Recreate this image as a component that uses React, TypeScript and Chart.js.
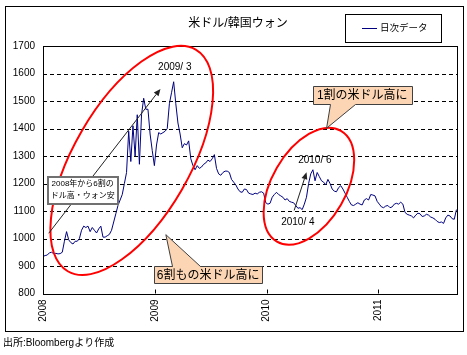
import React, { useEffect, useRef } from 'react';
import { Chart, registerables } from 'chart.js';
Chart.register(...registerables);

// ---- data (weekly closes, USD/KRW) ----
const startYear = 2008;
const values2008 = [
  935, 938, 940, 948, 950, 945, 946, 944, 945, 950,
  990, 1025, 995, 985, 980, 990, 990, 1000, 1030, 1045,
  1040, 1045, 1025, 1040, 1030, 1020, 1035, 1045, 1005, 1005,
  1010, 1015, 1030, 1060, 1090, 1120, 1140, 1160, 1200, 1240,
  1390, 1280, 1410, 1300, 1450, 1270, 1450, 1510, 1470, 1470,
  1380, 1320,
];
const values2009 = [
  1265, 1340, 1385, 1380, 1385, 1390, 1400, 1490, 1530, 1570,
  1490, 1420, 1380, 1330, 1345, 1340, 1355, 1290, 1265, 1250,
  1265, 1255, 1260, 1270, 1275, 1285, 1280, 1290, 1305, 1255,
  1235, 1230, 1240, 1245, 1245, 1240, 1215, 1205, 1195, 1180,
  1170, 1168, 1180, 1178, 1165, 1162, 1160, 1165, 1162, 1168,
  1170, 1165,
];
const values2010 = [
  1130, 1125, 1128, 1150, 1160, 1168, 1160, 1155, 1150, 1140,
  1145, 1135, 1132, 1130, 1120, 1110, 1112, 1105, 1125, 1150,
  1200, 1235, 1250, 1210, 1240, 1225, 1210, 1205, 1195, 1215,
  1200, 1180, 1172, 1170, 1185, 1192, 1180, 1165, 1150, 1135,
  1122, 1120, 1125, 1130, 1125, 1122, 1140, 1145, 1140, 1160,
  1158, 1155,
];
const values2011 = [
  1135, 1125, 1115, 1112, 1118, 1120, 1112, 1115, 1125, 1128,
  1125, 1132, 1125, 1095, 1088, 1085, 1082, 1075, 1085, 1092,
  1090, 1080, 1082, 1088, 1085, 1078, 1075, 1070, 1062, 1058,
  1060, 1055, 1075, 1085, 1082, 1072, 1070, 1105,
];
const xTickYears = [2008, 2009, 2010, 2011];
const yTickValues = [800, 900, 1000, 1100, 1200, 1300, 1400, 1500, 1600, 1700];
const gridValues = [900, 1000, 1100, 1200, 1300, 1400, 1500, 1600];
const xMax = 2011.704;

const titleText = '米ドル/韓国ウォン';
const legendText = '日次データ';
const sourceText = '出所:Bloombergより作成';

const weekly = [...values2008, ...values2009, ...values2010, ...values2011];
const points = weekly.map((v, i) => ({ x: startYear + (i * 7) / 365.25, y: v }));

// ---- annotations (anchors in data units) ----
const ellipses = [
  { x: 2008.794, y: 1284, rx: 128, ry: 58, rot: -60 },
  { x: 2010.379, y: 1190, rx: 64, ry: 37, rot: -60 },
];
const arrows = [
  { x1: 2008.051, y1: 1019, x2: 2009.051, y2: 1544 },
  { x1: 2010.247, y1: 1102, x2: 2010.358, y2: 1241 },
];
const dateLabels = [
  { x: 2009.179, y: 1621, text: '2009/ 3' },
  { x: 2010.432, y: 1284, text: '2010/ 6' },
  { x: 2010.28, y: 1059, text: '2010/ 4' },
];
const callouts = [
  { x: 2010.856, y: 1522, w: 99, h: 18, text: '1割の米ドル高に', ax: 2010.537, ay: 1401, side: 'bottom', b1: 17, b2: 42 },
  { x: 2009.478, y: 870, w: 108, h: 17, text: '6割もの米ドル高に', ax: 2009.099, ay: 1014, side: 'top', b1: 18, b2: 46 },
];
const noteBox = { x: 2008.355, y: 1174, w: 70, h: 27, lines: ['2008年から6割の', 'ドル高・ウォン安'] };

const CJK = '"Liberation Sans", "Noto Sans CJK JP", sans-serif';

const decor = {
  id: 'decor',
  beforeDraw(chart: any) {
    const { ctx, width, height } = chart;
    ctx.save();
    ctx.fillStyle = '#fff';
    ctx.fillRect(0, 0, width, height);
    ctx.restore();
  },
  beforeDatasetsDraw(chart: any) {
    const { ctx, chartArea: ca, scales } = chart;
    const y = scales.y;
    ctx.save();
    ctx.strokeStyle = '#000';
    ctx.lineWidth = 1;
    ctx.setLineDash([4, 3]);
    for (const v of gridValues) {
      const py = Math.round(y.getPixelForValue(v)) + 0.5;
      ctx.beginPath();
      ctx.moveTo(ca.left, py);
      ctx.lineTo(ca.right, py);
      ctx.stroke();
    }
    ctx.restore();
  },
  afterDatasetsDraw(chart: any) {
    const { ctx, chartArea: ca, scales } = chart;
    const xs = scales.x, ys = scales.y;
    const px = (v: number) => xs.getPixelForValue(v);
    const py = (v: number) => ys.getPixelForValue(v);
    ctx.save();
    // plot border
    ctx.strokeStyle = '#000';
    ctx.lineWidth = 1;
    ctx.setLineDash([]);
    ctx.strokeRect(Math.round(ca.left) + 0.5, Math.round(ca.top) + 0.5, Math.round(ca.right - ca.left), Math.round(ca.bottom - ca.top));
    // x tick marks (inward)
    for (const t of xTickYears) {
      const x = Math.round(px(t)) + 0.5;
      ctx.beginPath();
      ctx.moveTo(x, ca.bottom);
      ctx.lineTo(x, ca.bottom - 4);
      ctx.stroke();
    }
    // ellipses
    ctx.strokeStyle = '#ff0000';
    ctx.lineWidth = 2;
    for (const e of ellipses) {
      ctx.beginPath();
      ctx.ellipse(px(e.x), py(e.y), e.rx, e.ry, (e.rot * Math.PI) / 180, 0, Math.PI * 2);
      ctx.stroke();
    }
    // arrows
    ctx.strokeStyle = '#222';
    ctx.fillStyle = '#222';
    ctx.lineWidth = 1;
    for (const a of arrows) {
      const x1 = px(a.x1), y1 = py(a.y1), x2 = px(a.x2), y2 = py(a.y2);
      const ang = Math.atan2(y2 - y1, x2 - x1);
      const hl = 7, hw = 3;
      const bx = x2 - hl * Math.cos(ang), by = y2 - hl * Math.sin(ang);
      ctx.beginPath();
      ctx.moveTo(x1, y1);
      ctx.lineTo(bx, by);
      ctx.stroke();
      ctx.beginPath();
      ctx.moveTo(x2, y2);
      ctx.lineTo(bx + hw * Math.sin(ang), by - hw * Math.cos(ang));
      ctx.lineTo(bx - hw * Math.sin(ang), by + hw * Math.cos(ang));
      ctx.closePath();
      ctx.fill();
    }
    // note box
    {
      const cx = px(noteBox.x), cy = py(noteBox.y);
      const L = Math.round(cx - noteBox.w / 2), T = Math.round(cy - noteBox.h / 2);
      ctx.fillStyle = '#fff';
      ctx.fillRect(L, T, noteBox.w, noteBox.h);
      ctx.strokeStyle = '#707070';
      ctx.lineWidth = 2;
      ctx.strokeRect(L, T, noteBox.w, noteBox.h);
      ctx.fillStyle = '#000';
      ctx.font = `8px ${CJK}`;
      ctx.textAlign = 'center';
      ctx.textBaseline = 'middle';
      ctx.fillText(noteBox.lines[0], cx, T + 7);
      ctx.fillText(noteBox.lines[1], cx, T + 19);
    }
    // callouts
    for (const c of callouts) {
      const cx = px(c.x), cy = py(c.y);
      const L = Math.round(cx - c.w / 2) + 0.5, T = Math.round(cy - c.h / 2) + 0.5;
      const R = L + c.w, B = T + c.h;
      const ax = px(c.ax), ay = py(c.ay);
      ctx.beginPath();
      if (c.side === 'bottom') {
        ctx.moveTo(L, T); ctx.lineTo(R, T); ctx.lineTo(R, B);
        ctx.lineTo(L + c.b2, B); ctx.lineTo(ax, ay); ctx.lineTo(L + c.b1, B);
        ctx.lineTo(L, B);
      } else {
        ctx.moveTo(L, T); ctx.lineTo(L + c.b1, T); ctx.lineTo(ax, ay); ctx.lineTo(L + c.b2, T);
        ctx.lineTo(R, T); ctx.lineTo(R, B); ctx.lineTo(L, B);
      }
      ctx.closePath();
      ctx.fillStyle = '#fcd5b4';
      ctx.fill();
      ctx.strokeStyle = '#404040';
      ctx.lineWidth = 1;
      ctx.stroke();
      ctx.fillStyle = '#000';
      ctx.font = `12px ${CJK}`;
      ctx.textAlign = 'center';
      ctx.textBaseline = 'middle';
      ctx.fillText(c.text, cx, cy + 1);
    }
    // date labels
    ctx.fillStyle = '#000';
    ctx.font = `10px ${CJK}`;
    ctx.textAlign = 'center';
    ctx.textBaseline = 'middle';
    for (const d of dateLabels) ctx.fillText(d.text, px(d.x), py(d.y));
    ctx.restore();
  },
  afterDraw(chart: any) {
    const { ctx } = chart;
    ctx.save();
    ctx.strokeStyle = '#000';
    ctx.lineWidth = 1;
    ctx.strokeRect(5.5, 6.5, 458, 325);
    // title
    ctx.fillStyle = '#000';
    ctx.font = `12px ${CJK}`;
    ctx.textAlign = 'center';
    ctx.textBaseline = 'middle';
    ctx.fillText(titleText, 238, 24);
    // legend
    ctx.strokeRect(345.5, 14.5, 96, 28);
    ctx.strokeStyle = '#000080';
    ctx.beginPath();
    ctx.moveTo(362, 28.5);
    ctx.lineTo(377, 28.5);
    ctx.stroke();
    ctx.font = `9.5px ${CJK}`;
    ctx.textAlign = 'left';
    ctx.fillText(legendText, 380, 28.5);
    // source
    ctx.font = `10px ${CJK}`;
    ctx.fillText(sourceText, 3, 343);
    ctx.restore();
  },
};

export default function App() {
  const ref = useRef<HTMLCanvasElement>(null);
  useEffect(() => {
    document.body.style.margin = '0';
    const chart = new Chart(ref.current as HTMLCanvasElement, {
      type: 'line',
      data: {
        datasets: [
          {
            label: legendText,
            data: points,
            borderColor: '#000080',
            borderWidth: 1,
            pointRadius: 0,
            tension: 0,
            fill: false,
          },
        ],
      },
      options: {
        animation: false,
        responsive: false,
        parsing: false as any,
        layout: { padding: { top: 46, right: 10, left: 0, bottom: 0 } },
        plugins: { legend: { display: false }, title: { display: false }, tooltip: { enabled: false } },
        scales: {
          x: {
            type: 'linear',
            min: startYear,
            max: xMax,
            grid: { display: false, drawTicks: false },
            border: { display: false },
            afterBuildTicks: (s: any) => {
              s.ticks = xTickYears.map((v) => ({ value: v }));
            },
            afterFit: (s: any) => {
              s.height = 61.5;
            },
            ticks: {
              autoSkip: false,
              minRotation: 90,
              maxRotation: 90,
              padding: 6,
              color: '#000',
              font: { family: 'Liberation Sans', size: 10 },
              callback: (v: any) => String(v),
            },
          },
          y: {
            type: 'linear',
            min: 800,
            max: 1700,
            grid: { display: false, drawTicks: false },
            border: { display: false },
            afterBuildTicks: (s: any) => {
              s.ticks = yTickValues.map((v) => ({ value: v }));
            },
            afterFit: (s: any) => {
              s.width = 43;
            },
            ticks: {
              padding: 8,
              color: '#000',
              font: { family: 'Liberation Sans', size: 10 },
              callback: (v: any) => String(v),
            },
          },
        },
      },
      plugins: [decor],
    });
    return () => chart.destroy();
  }, []);
  return (
    <div style={{ width: 467, height: 355 }}>
      <canvas ref={ref} width={467} height={355} style={{ display: 'block', width: 467, height: 355 }} />
    </div>
  );
}
